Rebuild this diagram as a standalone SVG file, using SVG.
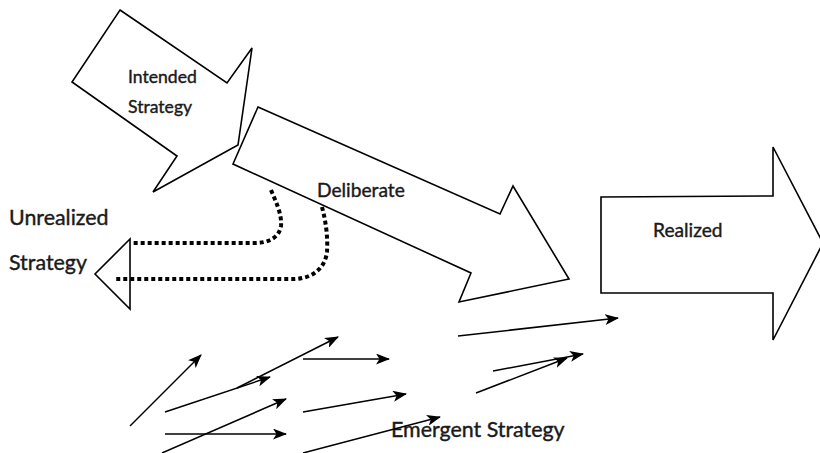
<svg xmlns="http://www.w3.org/2000/svg" width="820" height="453" viewBox="0 0 820 453">
<style>
.big{fill:none;stroke:#000;stroke-width:1.6;stroke-linejoin:miter}
.lbl{font-family:Lato,"Liberation Sans",sans-serif;fill:#1a1a1a;stroke:#1a1a1a;stroke-width:0.4}
.s1{font-size:17.6px}
.s2{font-size:19.2px}
.s3{font-size:21.4px}
.dot{fill:none;stroke:#000;stroke-width:4;stroke-dasharray:4 3}
.em{fill:none;stroke:#000;stroke-width:1.5;marker-end:url(#ah)}
</style>
<defs>
<marker id="ah" markerUnits="userSpaceOnUse" markerWidth="15" markerHeight="11" refX="13" refY="5.5" orient="auto">
<path d="M0,0 L14,5.5 L0,11 L3.5,5.5 Z" fill="#000"/>
</marker>
</defs>
<rect width="820" height="453" fill="#fff"/>
<g id="intended">
<polygon class="big" points="120,10 227,83 252,48 238,145 153,192 177,156 72,82"/>
<text class="lbl s1" x="128" y="83">Intended</text>
<text class="lbl s1" x="128" y="113">Strategy</text>
</g>
<g id="deliberate">
<polygon class="big" points="258,107 500,214 513,186 569,279 459,302 471,273 233,164"/>
<text class="lbl s2" x="317" y="197">Deliberate</text>
</g>
<g id="unrealized">
<polygon class="big" points="130,239 95,274 130,309"/>
<text class="lbl s3" x="9" y="225">Unrealized</text>
<text class="lbl s3" x="9" y="270">Strategy</text>
</g>
<g id="realized">
<polygon class="big" points="601,197 773,196 773,147 823,243 773,340 773,293 601,293"/>
<text class="lbl s2" x="653" y="237">Realized</text>
</g>
<g id="emergent">
<text class="lbl s3" x="391" y="437">Emergent Strategy</text>
</g>
<g id="connectors">
<path class="dot" d="M271,190 C276,202 282,214 281,226 C279,238 268,243 255,243 L132,243"/>
<path class="dot" d="M322,207 C326,222 328,238 327,252 C325,268 313,278 295,279 L115,279"/>
<line class="em" x1="130" y1="426" x2="201" y2="355"/>
<line class="em" x1="165" y1="412" x2="270" y2="377"/>
<line class="em" x1="237" y1="388" x2="338" y2="337"/>
<line class="em" x1="303" y1="359" x2="389" y2="359"/>
<line class="em" x1="303" y1="412" x2="406" y2="394"/>
<line class="em" x1="165" y1="434" x2="286" y2="434"/>
<line class="em" x1="162" y1="453" x2="286" y2="399"/>
<line class="em" x1="303" y1="453" x2="440" y2="417"/>
<line class="em" x1="458" y1="336" x2="618" y2="318"/>
<line class="em" x1="493" y1="371" x2="583" y2="354"/>
<line class="em" x1="476" y1="393" x2="567" y2="358"/>
</g>
</svg>
